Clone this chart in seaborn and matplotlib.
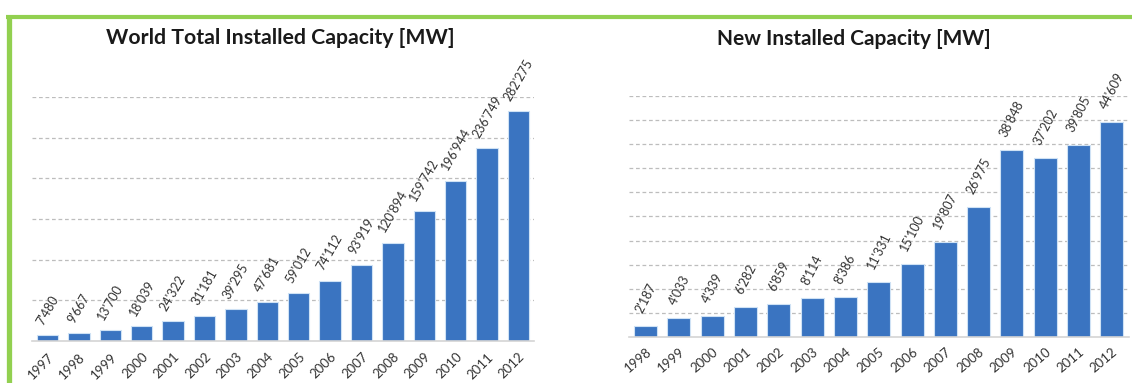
import matplotlib
matplotlib.use("Agg")
import matplotlib.pyplot as plt
import seaborn as sns
import pandas as pd
from matplotlib.lines import Line2D

# Cumulative installed capacity, 1997-2012 [MW]
years_total = ["1997", "1998", "1999", "2000", "2001", "2002", "2003", "2004",
               "2005", "2006", "2007", "2008", "2009", "2010", "2011", "2012"]
total_mw = [7480, 9667, 13700, 18039, 24322, 31181, 39295, 47681,
            59012, 74112, 93919, 120894, 159742, 196944, 236749, 282275]

# Capacity added per year, 1998-2012 [MW]
years_new = ["1998", "1999", "2000", "2001", "2002", "2003", "2004", "2005",
             "2006", "2007", "2008", "2009", "2010", "2011", "2012"]
new_mw = [2187, 4033, 4339, 6282, 6859, 8114, 8386, 11331,
          15100, 19807, 26975, 38848, 37202, 39805, 44609]

title_total = "World Total Installed Capacity [MW]"
title_new = "New Installed Capacity [MW]"

BLUE = "#3A74C1"
GRID = "#BDBDBD"
GREEN = "#92D050"

sns.set_theme(style="white")
plt.rcParams["font.family"] = ["Lato", "DejaVu Sans"]

W, H = 1132, 383
fig = plt.figure(figsize=(W / 100, H / 100), dpi=100)
fig.patch.set_facecolor("white")


def fmt(v):
    return f"{v:,}".replace(",", "'")


def draw_panel(ax, years, values, ymax, ystep, bar_w, label_rot, label_gap,
               year_rot, year_pad):
    df = pd.DataFrame({"year": years, "mw": values})
    sns.barplot(data=df, x="year", y="mw", color=BLUE, saturation=1,
                width=bar_w, edgecolor="#CFE2F5", linewidth=0.8, ax=ax)
    ax.set_xlim(-0.5, len(years) - 0.5)
    ax.set_ylim(0, ymax)
    ax.set_yticks(range(ystep, ymax + 1, ystep))
    ax.set_yticklabels([])
    ax.yaxis.grid(True, linestyle=(0, (3, 2.2)), color=GRID, linewidth=0.9)
    ax.xaxis.grid(False)
    ax.set_axisbelow(True)
    for side in ("top", "right", "left"):
        ax.spines[side].set_visible(False)
    ax.spines["bottom"].set_color("#D4D4D4")
    ax.spines["bottom"].set_linewidth(1.2)
    ax.set_xlabel("")
    ax.set_ylabel("")
    ax.tick_params(axis="both", length=0)
    ax.tick_params(axis="x", pad=year_pad)
    ax.set_xticks(range(len(years)))
    ax.set_xticklabels(years, rotation=year_rot, ha="right",
                       rotation_mode="anchor", fontsize=9.5, color="#333333")
    for i, v in enumerate(values):
        ax.annotate(fmt(v), (i, v), xytext=(0, label_gap),
                    textcoords="offset points", rotation=label_rot,
                    ha="center", va="bottom", fontsize=9, color="#333333",
                    annotation_clip=False)


ax1 = fig.add_axes([31.8 / W, 42 / H, 502.4 / W, 244 / H])
draw_panel(ax1, years_total, total_mw, 300000, 50000, 0.685, 60, 6, 45, 7)

ax2 = fig.add_axes([629 / W, 46 / H, 499.5 / W, 241 / H])
draw_panel(ax2, years_new, new_mw, 50000, 5000, 0.69, 63, 8, 40, 6)

fig.text(280 / W, 1 - 38 / H, title_total, ha="center", va="center",
         fontsize=15.3, fontweight="bold", color="#1A1A1A")
fig.text(854 / W, 1 - 39 / H, title_new, ha="center", va="center",
         fontsize=15, fontweight="bold", color="#1A1A1A")

# Green frame along the top and left edges
fig.add_artist(Line2D([6 / W, 1], [1 - 17 / H, 1 - 17 / H], color=GREEN,
                      linewidth=3, solid_capstyle="butt"))
fig.add_artist(Line2D([8.5 / W, 8.5 / W], [0, 1 - 15 / H], color=GREEN,
                      linewidth=3.8, solid_capstyle="butt"))

fig.savefig("out.png", dpi=100, facecolor="white")
